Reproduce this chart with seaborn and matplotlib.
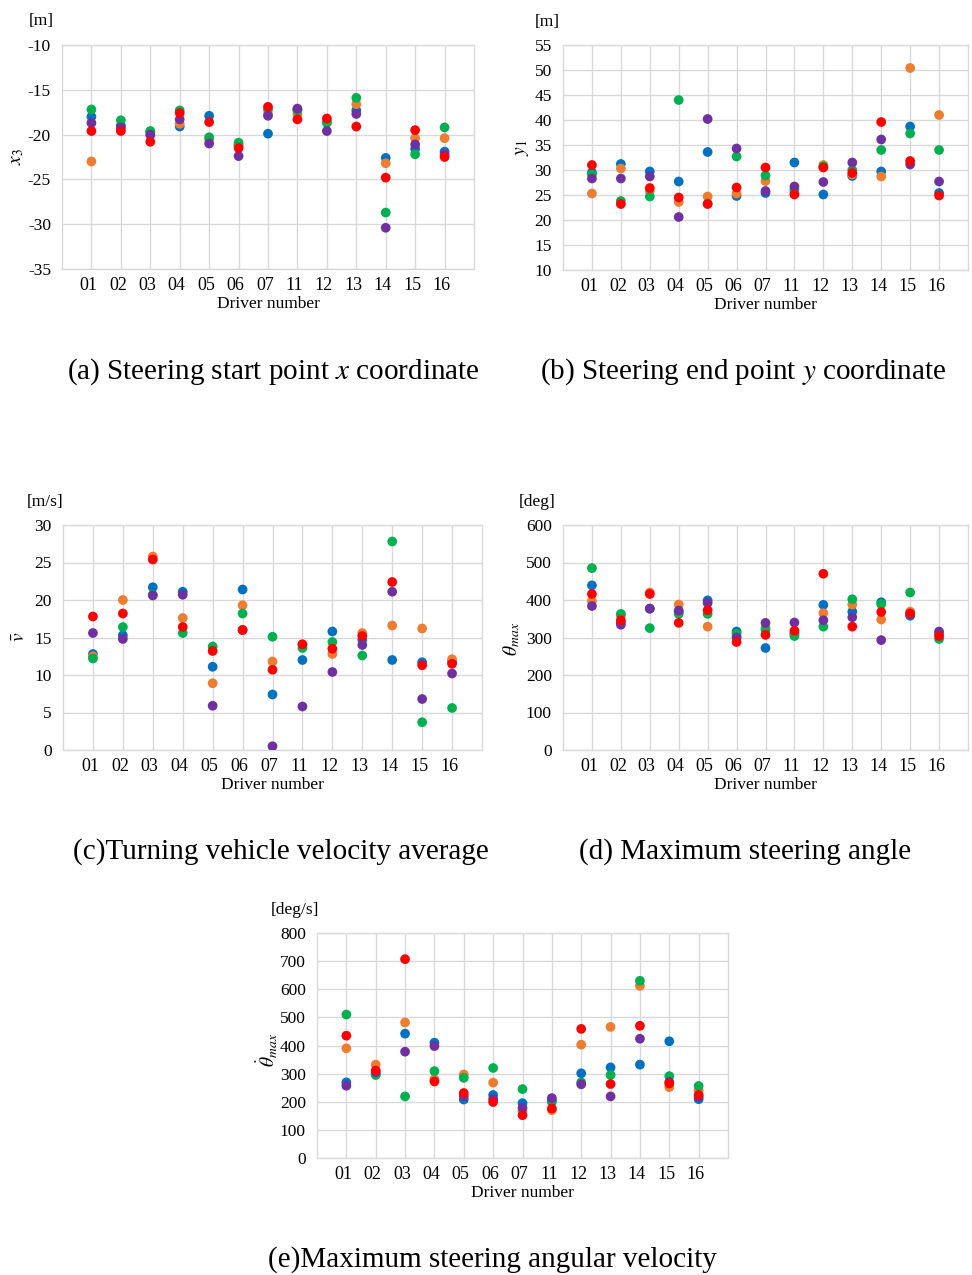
import numpy as np
import pandas as pd
import matplotlib
matplotlib.use("Agg")
import matplotlib.pyplot as plt
import matplotlib.transforms as mtransforms
import seaborn as sns

drivers = ["01", "02", "03", "04", "05", "06", "07", "11", "12", "13", "14", "15", "16"]
trials = ["T1", "T2", "T3", "T4", "T5"]
colors = ["#0070C0", "#ED7D31", "#00B050", "#7030A0", "#FF0000"]

# (a) steering start point x coordinate  [blue, orange, green, purple, red]
x3_blue   = [-18.0, -19.0, -19.7, -19.1, -17.9, -21.2, -19.9, -17.2, -18.6, -17.3, -22.6, -21.6, -21.9]
x3_orange = [-23.0, -19.4, -20.1, -18.8, -20.6, -21.2, -17.7, -17.7, -18.5, -16.6, -23.2, -20.4, -20.4]
x3_green  = [-17.2, -18.4, -19.6, -17.3, -20.3, -20.9, -17.2, -17.3, -18.7, -15.9, -28.7, -22.2, -19.2]
x3_purple = [-18.7, -19.2, -20.0, -18.3, -21.0, -22.4, -17.9, -17.1, -19.6, -17.7, -30.4, -21.1, -22.2]
x3_red    = [-19.6, -19.6, -20.8, -17.6, -18.6, -21.5, -16.9, -18.3, -18.2, -19.1, -24.8, -19.5, -22.5]

# (b) steering end point y coordinate
y1_blue   = [29.5, 31.2, 29.7, 27.7, 33.6, 24.8, 25.4, 31.5, 25.1, 28.8, 29.7, 38.7, 25.4]
y1_orange = [25.3, 30.3, 25.8, 23.6, 24.7, 25.3, 27.8, 25.5, 31.0, 29.1, 28.7, 50.4, 41.0]
y1_green  = [29.1, 23.8, 24.7, 44.0, 23.3, 32.7, 28.9, 26.1, 30.7, 30.0, 34.0, 37.3, 34.0]
y1_purple = [28.3, 28.3, 28.7, 20.6, 40.2, 34.3, 25.8, 26.7, 27.6, 31.5, 36.1, 31.1, 27.7]
y1_red    = [31.0, 23.2, 26.4, 24.5, 23.2, 26.5, 30.5, 25.1, 30.5, 29.4, 39.6, 31.8, 24.9]

# (c) turning vehicle velocity average
v_blue   = [12.8, 15.3, 21.7, 21.1, 11.1, 21.4, 7.4, 12.0, 15.8, 14.7, 12.0, 11.7, 11.8]
v_orange = [12.5, 20.0, 25.8, 17.6, 8.9, 19.3, 11.8, 14.0, 12.8, 15.6, 16.6, 16.2, 12.1]
v_green  = [12.2, 16.4, 20.7, 15.6, 13.8, 18.2, 15.1, 13.6, 14.4, 12.6, 27.8, 3.7, 5.6]
v_purple = [15.6, 14.8, 20.6, 20.7, 5.9, 16.0, 0.5, 5.8, 10.4, 14.0, 21.1, 6.8, 10.2]
v_red    = [17.8, 18.2, 25.4, 16.4, 13.2, 16.0, 10.7, 14.1, 13.5, 15.2, 22.4, 11.3, 11.5]

# (d) maximum steering angle
th_blue   = [439, 340, 377, 368, 399, 316, 272, 310, 387, 369, 394, 358, 310]
th_orange = [397, 358, 420, 388, 329, 305, 326, 311, 365, 388, 348, 369, 312]
th_green  = [485, 363, 325, 363, 363, 310, 320, 304, 329, 402, 389, 420, 296]
th_purple = [384, 334, 377, 372, 392, 300, 339, 340, 346, 354, 293, 362, 316]
th_red    = [416, 346, 416, 339, 373, 288, 307, 318, 470, 329, 368, 364, 304]

# (e) maximum steering angular velocity
thd_blue   = [269, 300, 442, 410, 208, 224, 195, 205, 301, 322, 332, 415, 209]
thd_orange = [390, 332, 482, 280, 297, 268, 168, 170, 403, 466, 612, 252, 240]
thd_green  = [510, 295, 219, 309, 285, 320, 245, 199, 269, 295, 630, 291, 256]
thd_purple = [257, 305, 378, 398, 220, 210, 178, 213, 262, 219, 424, 270, 218]
thd_red    = [435, 311, 707, 272, 231, 199, 152, 176, 459, 263, 470, 265, 224]

sns.set_theme(style="whitegrid")
plt.rcParams["font.family"] = ["Liberation Serif", "DejaVu Serif"]
plt.rcParams["mathtext.fontset"] = "stix"
plt.rcParams["axes.unicode_minus"] = False
plt.rcParams["text.color"] = "black"
plt.rcParams["axes.labelcolor"] = "black"

W, H = 972, 1275
fig = plt.figure(figsize=(W / 100, H / 100), dpi=100)
fig.patch.set_facecolor("white")

GRID = "#d9d9d9"


def long_df(series):
    rows = []
    for t, vals in zip(trials, series):
        for d, v in zip(drivers, vals):
            rows.append({"driver": d, "trial": t, "value": v})
    return pd.DataFrame(rows)


def make_panel(box, series, ylim, ystep, unit, unit_xy, ylab, ylab_xy, caption, cap_xy):
    l, r, t, b = box
    ax = fig.add_axes([l / W, (H - b) / H, (r - l) / W, (b - t) / H])
    df = long_df(series)
    sns.stripplot(data=df, x="driver", y="value", hue="trial", palette=colors,
                  jitter=False, dodge=False, size=7.0, linewidth=0, ax=ax,
                  legend=False, order=drivers, hue_order=trials, zorder=3)
    ax.set_xlim(-1, len(drivers))
    ax.set_ylim(*ylim)
    ax.set_yticks(np.arange(ylim[0], ylim[1] + ystep / 2, ystep))
    ax.set_xticks(range(len(drivers)))
    ax.set_xticklabels(drivers)
    ax.grid(True, color=GRID, linewidth=1.0)
    ax.set_axisbelow(True)
    for s in ax.spines.values():
        s.set_visible(True)
        s.set_color(GRID)
        s.set_linewidth(1.0)
    ax.tick_params(axis="y", length=5, color=GRID, width=1, labelsize=12.5, pad=3,
                   labelcolor="black")
    ax.tick_params(axis="x", length=0, labelsize=13, pad=6, labelcolor="black")
    shift = mtransforms.ScaledTranslation(-3 / 100, 0, fig.dpi_scale_trans)
    for lab in ax.get_xticklabels():
        lab.set_horizontalalignment("center")
        lab.set_transform(lab.get_transform() + shift)
    ax.set_xlabel("Driver number", fontsize=12.5, labelpad=1, color="black")
    ax.set_ylabel("")
    fig.text(unit_xy[0] / W, 1 - unit_xy[1] / H, unit, fontsize=12.5, ha="center", va="center")
    fig.text(ylab_xy[0] / W, 1 - ylab_xy[1] / H, ylab, fontsize=14, ha="center", va="center",
             rotation=90)
    fig.text(cap_xy[0] / W, 1 - cap_xy[1] / H, caption, fontsize=21, ha="center", va="center")
    return ax


make_panel((62, 474, 45, 269),
           [x3_blue, x3_orange, x3_green, x3_purple, x3_red], (-35, -10), 5,
           "[m]", (41, 21), r"$x_3$", (17, 157),
           r"(a) Steering start point $x$ coordinate", (273, 372))

make_panel((563, 968, 45, 270),
           [y1_blue, y1_orange, y1_green, y1_purple, y1_red], (10, 55), 5,
           "[m]", (547, 22), r"$y_1$", (522, 148),
           r"(b) Steering end point $y$ coordinate", (743, 372))

make_panel((63, 482, 525, 750),
           [v_blue, v_orange, v_green, v_purple, v_red], (0, 30), 5,
           "[m/s]", (45, 502), r"$\bar{v}$", (20, 637),
           "(c)Turning vehicle velocity average", (281, 852))

make_panel((563, 968, 525, 750),
           [th_blue, th_orange, th_green, th_purple, th_red], (0, 600), 100,
           "[deg]", (537, 502), r"$\theta_{max}$", (512, 639),
           "(d) Maximum steering angle", (745, 852))

make_panel((317, 728, 933, 1158),
           [thd_blue, thd_orange, thd_green, thd_purple, thd_red], (0, 800), 100,
           "[deg/s]", (295, 910), r"$\dot{\theta}_{max}$", (267, 1050),
           "(e)Maximum steering angular velocity", (492, 1260))

fig.savefig("out.png", dpi=100, facecolor="white")
